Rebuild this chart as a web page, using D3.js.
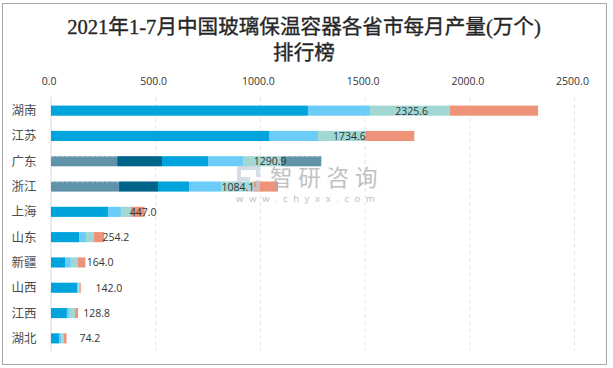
<!DOCTYPE html>
<html>
<head>
<meta charset="utf-8">
<script src="https://cdn.jsdelivr.net/npm/d3@7/dist/d3.min.js"></script>
<style>
html, body { margin: 0; padding: 0; background: #fff; }
svg { display: block; }
</style>
</head>
<body>
<div id="chart"></div>
<script>
const width = 613;
const height = 368;

const titleLines = ['2021年1-7月中国玻璃保温容器各省市每月产量(万个)', '排行榜'];
const provinces = ['湖南', '江苏', '广东', '浙江', '上海', '山东', '新疆', '山西', '江西', '湖北'];
const totals = [2325.6, 1734.6, 1290.9, 1084.1, 447.0, 254.2, 164.0, 142.0, 128.8, 74.2];
// where each total label sits, in axis units
const labelAt = [1722, 1425, 1046, 892, 440, 310, 235, 276, 218, 186];
const xTicks = [0, 500, 1000, 1500, 2000, 2500];

// one array per stacked segment
const seriesA = [0, 0, 316, 325, 0, 0, 0, 0, 0, 0];
const seriesB = [0, 0, 214, 186, 0, 0, 0, 0, 0, 0];
const seriesC = [1227, 1044, 220, 148, 272, 134, 67, 124, 76, 38];
const seriesD = [296, 231, 167, 153, 62, 33, 28, 7, 10, 10];
const seriesE = [382, 226, 181, 157, 48, 38, 34, 4, 29, 14];
const seriesF = [421, 234, 0, 115, 65, 49, 35, 7, 14, 12];
const seriesG = [0, 0, 193, 0, 0, 0, 0, 0, 0, 0];
const seriesColors = ['#5f93a9', '#00648a', '#00a4dc', '#6bcdf7', '#a1d8d3', '#ee9279', '#5f93a9'];

const rows = provinces.map((name, i) => ({
    name,
    a: seriesA[i], b: seriesB[i], c: seriesC[i], d: seriesD[i],
    e: seriesE[i], f: seriesF[i], g: seriesG[i]
}));

const svg = d3.select('#chart')
    .append('svg')
    .attr('width', width)
    .attr('height', height);

svg.append('rect')
    .attr('x', 2.5)
    .attr('y', 3.5)
    .attr('width', 604)
    .attr('height', 361)
    .attr('fill', '#fff')
    .attr('stroke', '#a6a6a6')
    .attr('stroke-width', 1);

svg.selectAll('.title')
    .data(titleLines)
    .enter()
    .append('text')
    .attr('class', 'title')
    .attr('x', 304)
    .attr('y', (d, i) => 33.5 + i * 26)
    .attr('text-anchor', 'middle')
    .attr('font-family', '"Liberation Serif", "Noto Sans CJK SC", serif')
    .attr('font-size', 20.6)
    .attr('fill', '#262626')
    .attr('stroke', '#262626')
    .attr('stroke-width', 0.35)
    .text(d => d);

const xScale = d3.scaleLinear()
    .domain([0, 2500])
    .range([51, 574.5]);

const yScale = d3.scaleBand()
    .domain(provinces)
    .range([98, 351])
    .paddingInner(0.6)
    .paddingOuter(0.3);

const xAxis = d3.axisTop(xScale)
    .tickValues(xTicks)
    .tickFormat(d3.format('.1f'))
    .tickSize(0)
    .tickPadding(0);

const axisG = svg.append('g')
    .attr('transform', 'translate(-2.5, 85)')
    .call(xAxis);
axisG.select('.domain').remove();
axisG.selectAll('text')
    .attr('font-family', '"Open Sans", "Noto Sans", sans-serif')
    .attr('font-size', 10.5)
    .attr('fill', '#333');

svg.selectAll('.grid')
    .data(xTicks.slice(1))
    .enter()
    .append('line')
    .attr('class', 'grid')
    .attr('x1', d => xScale(d))
    .attr('x2', d => xScale(d))
    .attr('y1', 97)
    .attr('y2', 351)
    .attr('stroke', '#e6e6e6')
    .attr('stroke-dasharray', '4,3');

svg.append('line')
    .attr('x1', xScale(0))
    .attr('x2', xScale(0))
    .attr('y1', 97)
    .attr('y2', 351)
    .attr('stroke', '#d9d9d9');

const stack = d3.stack().keys(['a', 'b', 'c', 'd', 'e', 'f', 'g']);
const layers = stack(rows);

svg.selectAll('.layer')
    .data(layers)
    .enter()
    .append('g')
    .attr('class', 'layer')
    .attr('fill', (d, i) => seriesColors[i])
    .selectAll('rect')
    .data(d => d)
    .enter()
    .append('rect')
    .attr('x', d => xScale(d[0]))
    .attr('y', d => yScale(d.data.name))
    .attr('width', d => xScale(d[1]) - xScale(d[0]))
    .attr('height', yScale.bandwidth());

// the grey-blue segments have a dashed top edge
svg.selectAll('.dash-edge')
    .data(layers.filter(l => l.key === 'a' || l.key === 'g').flatMap(l => Array.from(l)).filter(d => d[1] > d[0]))
    .enter()
    .append('line')
    .attr('class', 'dash-edge')
    .attr('x1', d => xScale(d[0]))
    .attr('x2', d => xScale(d[1]))
    .attr('y1', d => yScale(d.data.name) + 0.5)
    .attr('y2', d => yScale(d.data.name) + 0.5)
    .attr('stroke', '#fff')
    .attr('stroke-opacity', 0.35)
    .attr('stroke-dasharray', '3,2');

svg.selectAll('.province')
    .data(provinces)
    .enter()
    .append('text')
    .attr('class', 'province')
    .attr('x', 24)
    .attr('y', d => yScale(d) + yScale.bandwidth() / 2 + 4.5)
    .attr('text-anchor', 'middle')
    .attr('font-family', '"Noto Sans CJK SC", sans-serif')
    .attr('font-size', 12.5)
    .attr('fill', '#4d4d4d')
    .text(d => d);

// watermark sits over the bars
const mark = svg.append('g').attr('opacity', 0.7);

mark.append('path')
    .attr('d', 'M237 166h23v11h-4v-7h-15v7h9v4h-9v9h-4z M260 180v11h-15v-4h11v-7z')
    .attr('fill', '#c3cfdf');

mark.append('text')
    .attr('x', 270)
    .attr('y', 186)
    .attr('font-family', '"Noto Sans CJK SC", sans-serif')
    .attr('font-size', 22.5)
    .attr('letter-spacing', 5.8)
    .attr('fill', '#a8a8a8')
    .text('智研咨询');

mark.append('text')
    .attr('x', 236)
    .attr('y', 202)
    .attr('font-family', '"Noto Sans", sans-serif')
    .attr('font-size', 9.5)
    .attr('letter-spacing', 5.6)
    .attr('fill', '#a8a8a8')
    .text('www.chyxx.com');

// totals stay readable on top of the watermark
svg.selectAll('.total')
    .data(totals)
    .enter()
    .append('text')
    .attr('class', 'total')
    .attr('x', (d, i) => xScale(labelAt[i]))
    .attr('y', (d, i) => yScale(provinces[i]) + yScale.bandwidth() / 2 + 4)
    .attr('text-anchor', 'middle')
    .attr('font-family', '"Open Sans", "Noto Sans", sans-serif')
    .attr('font-size', 10.5)
    .attr('fill', '#333')
    .text(d => d.toFixed(1));
</script>
</body>
</html>
